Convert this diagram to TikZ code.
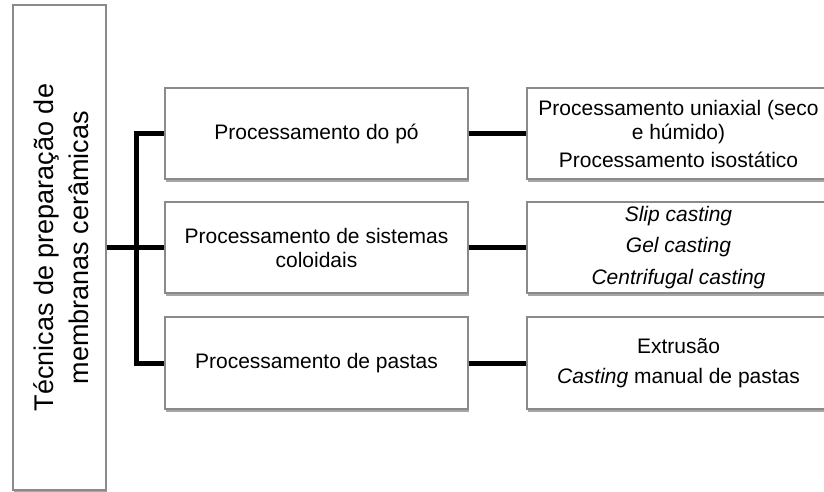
\documentclass[tikz,border=0pt]{standalone}
\usepackage{fontspec}
\setmainfont{Liberation Sans}
\usetikzlibrary{shadows}
\definecolor{boxline}{HTML}{8A8A8A}
\begin{document}
\begin{tikzpicture}[x=1pt,y=-1pt,
  box/.style={draw=boxline, line width=1.3pt, fill=white, inner sep=0pt,
    drop shadow={shadow xshift=1pt, shadow yshift=-3pt, opacity=0.35, fill=black},
    align=center, font=\fontsize{21}{24}\selectfont},
  midbox/.style={box, minimum width=303pt, minimum height=91pt},
  link/.style={line width=5pt}]
\clip (0,0) rectangle (824,491);
\fill[white] (0,0) rectangle (824,491);
% root
\node[box, minimum width=93pt, minimum height=485pt] (root) at (59.5,247.5) {};
\node[rotate=90, align=center, inner sep=0pt, font=\fontsize{27}{35}\selectfont] (roottext) at (61,247.5) {Técnicas de preparação de\\membranas cerâmicas};
% middle column
\node[midbox] (m1) at (316.5,133.5) {Processamento do pó};
\node[midbox] (m2) at (316.5,247.5) {Processamento de sistemas\\coloidais};
\node[midbox, minimum height=92pt] (m3) at (316.5,363) {Processamento de pastas};
% right column
\node[midbox] (r1) at (678.5,133.5) {Processamento uniaxial (seco\\e húmido)\\[4pt]Processamento isostático};
\node[midbox] (r2) at (678.5,247.5) {\itshape Slip casting\\[7.5pt]\itshape Gel casting\\[7.5pt]\itshape Centrifugal casting};
\node[midbox, minimum height=92pt] (r3) at (678.5,363) {Extrusão\\[6pt]\textit{Casting} manual de pastas};
% connectors
\coordinate (jx) at (136,0);
\draw[link] (root.east) -- (m2.west);
\draw[link] (m1.west) -- (jx |- m1) -- (jx |- m3) -- (m3.west);
\draw[link] (m1.east) -- (r1.west);
\draw[link] (m2.east) -- (r2.west);
\draw[link] (m3.east) -- (r3.west);
\end{tikzpicture}
\end{document}
